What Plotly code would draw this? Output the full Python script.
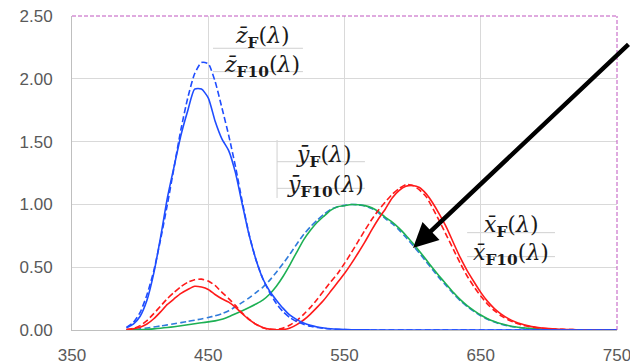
import plotly.graph_objects as go

wavelength = [390, 395, 400, 405, 410, 415, 420, 425, 430, 435, 440, 445, 450, 455, 460, 465,
              470, 475, 480, 485, 490, 495, 500, 505, 510, 515, 520, 525, 530, 535, 540, 545,
              550, 555, 560, 565, 570, 575, 580, 585, 590, 595, 600, 605, 610, 615, 620, 625,
              630, 635, 640, 645, 650, 655, 660, 665, 670, 675, 680, 685, 690, 695, 700, 705,
              710, 715, 720, 725, 730, 735, 740, 745, 750]

# 2-degree (solid)
x_F = [0.0038, 0.0094, 0.0221, 0.0474, 0.0895, 0.1446, 0.2036, 0.2489, 0.2918, 0.3227, 0.3483, 0.3418,
       0.3225, 0.2827, 0.2485, 0.2220, 0.1807, 0.1292, 0.0818, 0.0460, 0.0208, 0.0071, 0.0025, 0.0036,
       0.0156, 0.0432, 0.0796, 0.1268, 0.1818, 0.2405, 0.3098, 0.3804, 0.4494, 0.5280, 0.6134, 0.7017,
       0.7968, 0.8853, 0.9638, 1.0510, 1.1098, 1.1436, 1.1510, 1.1348, 1.0839, 1.0073, 0.9143, 0.8136,
       0.6925, 0.5755, 0.4731, 0.3845, 0.2997, 0.2278, 0.1708, 0.1264, 0.0922, 0.0664, 0.0471, 0.0329,
       0.0226, 0.0158, 0.0110, 0.0076, 0.0052, 0.0036, 0.0025, 0.0017, 0.0012, 0.0008, 0.0006, 0.0004,
       0.0003]
y_F = [0.0004, 0.0011, 0.0025, 0.0050, 0.0091, 0.0143, 0.0203, 0.0261, 0.0332, 0.0416, 0.0503, 0.0574,
       0.0647, 0.0724, 0.0851, 0.1060, 0.1299, 0.1535, 0.1788, 0.2065, 0.2379, 0.2851, 0.3484, 0.4278,
       0.5205, 0.6206, 0.7181, 0.7946, 0.8576, 0.9071, 0.9545, 0.9814, 0.9890, 0.9995, 0.9968, 0.9903,
       0.9733, 0.9425, 0.8964, 0.8587, 0.8116, 0.7545, 0.6919, 0.6270, 0.5584, 0.4896, 0.4230, 0.3609,
       0.2981, 0.2417, 0.1943, 0.1547, 0.1193, 0.0898, 0.0667, 0.0490, 0.0356, 0.0255, 0.0181, 0.0126,
       0.0087, 0.0060, 0.0042, 0.0029, 0.0020, 0.0014, 0.0009, 0.0007, 0.0005, 0.0003, 0.0002, 0.0002,
       0.0001]
z_F = [0.0185, 0.0461, 0.1096, 0.2369, 0.4508, 0.7379, 1.0518, 1.3050, 1.5528, 1.7483, 1.9175, 1.9184,
       1.8485, 1.6644, 1.5222, 1.4284, 1.2506, 0.9992, 0.7552, 0.5617, 0.4099, 0.3106, 0.2377, 0.1720,
       0.1177, 0.0828, 0.0565, 0.0375, 0.0244, 0.0157, 0.0098, 0.0061, 0.0038, 0.0023, 0.0014, 0.0009,
       0.0005, 0.0003, 0.0002, 0.0001, 0.0001, 0.0, 0.0, 0.0, 0.0, 0.0, 0.0, 0.0,
       0.0, 0.0, 0.0, 0.0, 0.0, 0.0, 0.0, 0.0, 0.0, 0.0, 0.0, 0.0,
       0.0, 0.0, 0.0, 0.0, 0.0, 0.0, 0.0, 0.0, 0.0, 0.0, 0.0, 0.0,
       0.0]

# 10-degree (dashed)
x_F10 = [0.003, 0.012, 0.035, 0.075, 0.130, 0.190, 0.250, 0.300, 0.345, 0.380, 0.400, 0.405,
         0.390, 0.355, 0.300, 0.250, 0.195, 0.135, 0.085, 0.045, 0.018, 0.005, 0.004, 0.015,
         0.040, 0.075, 0.125, 0.180, 0.245, 0.315, 0.385, 0.450, 0.530, 0.615, 0.705, 0.795,
         0.880, 0.955, 1.020, 1.080, 1.125, 1.158, 1.150, 1.115, 1.060, 0.965, 0.860, 0.750,
         0.640, 0.530, 0.430, 0.345, 0.270, 0.205, 0.154, 0.113, 0.082, 0.058, 0.041, 0.029,
         0.020, 0.014, 0.0096, 0.0066, 0.0046, 0.0032, 0.0022, 0.0015, 0.0011, 0.0008, 0.0005, 0.0004,
         0.0003]
y_F10 = [0.001, 0.004, 0.009, 0.016, 0.024, 0.032, 0.041, 0.050, 0.059, 0.068, 0.078, 0.088,
         0.100, 0.113, 0.130, 0.153, 0.185, 0.220, 0.255, 0.298, 0.340, 0.395, 0.460, 0.530,
         0.605, 0.685, 0.760, 0.822, 0.875, 0.922, 0.960, 0.982, 0.992, 0.999, 0.997, 0.988,
         0.967, 0.933, 0.887, 0.846, 0.797, 0.738, 0.676, 0.611, 0.543, 0.475, 0.409, 0.349,
         0.288, 0.233, 0.187, 0.148, 0.113, 0.085, 0.063, 0.046, 0.033, 0.024, 0.017, 0.012,
         0.008, 0.0056, 0.0039, 0.0027, 0.0019, 0.0013, 0.0009, 0.0006, 0.0004, 0.0003, 0.0002, 0.0001,
         0.0001]
z_F10 = [0.020, 0.060, 0.140, 0.280, 0.470, 0.720, 1.000, 1.300, 1.600, 1.850, 2.040, 2.130,
         2.120, 1.980, 1.770, 1.550, 1.300, 1.020, 0.760, 0.560, 0.410, 0.300, 0.210, 0.145,
         0.098, 0.067, 0.045, 0.030, 0.020, 0.013, 0.008, 0.005, 0.003, 0.002, 0.001, 0.0,
         0.0, 0.0, 0.0, 0.0, 0.0, 0.0, 0.0, 0.0, 0.0, 0.0, 0.0, 0.0,
         0.0, 0.0, 0.0, 0.0, 0.0, 0.0, 0.0, 0.0, 0.0, 0.0, 0.0, 0.0,
         0.0, 0.0, 0.0, 0.0, 0.0, 0.0, 0.0, 0.0, 0.0, 0.0, 0.0, 0.0,
         0.0]

x_ticks = [350, 450, 550, 650, 750]
y_ticks = [0.0, 0.5, 1.0, 1.5, 2.0, 2.5]

RED = "#FF1A1A"
GREEN = "#1DB054"
BLUE = "#1F4DFF"
BLUE_LIGHT = "#2F7BDB"
DASH = "6px,3px"

fig = go.Figure()

def add(y, color, dash=None, name=""):
    fig.add_trace(go.Scatter(
        x=wavelength, y=y, mode="lines", name=name,
        line=dict(color=color, width=1.6, dash=dash, shape="spline", smoothing=0.6),
        hoverinfo="skip", showlegend=False))

add(y_F10, BLUE_LIGHT, DASH, "y_F10")
add(y_F, GREEN, None, "y_F")
add(x_F10, RED, DASH, "x_F10")
add(x_F, RED, None, "x_F")
add(z_F10, BLUE, DASH, "z_F10")
add(z_F, BLUE, None, "z_F")

tick_font = dict(family="Liberation Sans, Arial, sans-serif", size=17, color="#595959")

fig.update_xaxes(range=[350, 750], tickvals=x_ticks, ticktext=[str(v) for v in x_ticks],
                 showgrid=True, gridcolor="#D9D9D9", gridwidth=1,
                 showline=True, linecolor="#BFBFBF", linewidth=1,
                 zeroline=False, ticks="outside", ticklen=10, tickcolor="rgba(0,0,0,0)",
                 tickfont=tick_font, automargin=False, ticklabeloverflow="allow")
fig.update_yaxes(range=[0, 2.5], tickvals=y_ticks, ticktext=[f"{v:.2f}" for v in y_ticks],
                 showgrid=True, gridcolor="#D9D9D9", gridwidth=1,
                 showline=True, linecolor="#BFBFBF", linewidth=1,
                 zeroline=False, ticks="outside", ticklen=15, tickcolor="rgba(0,0,0,0)",
                 tickfont=tick_font, automargin=False, ticklabeloverflow="allow")

# dashed purple border on top and right
border = dict(color="#BF55BF", width=1, dash="4px,2px")
fig.add_shape(type="line", xref="paper", yref="paper", x0=0, x1=1, y0=1, y1=1, line=border)
fig.add_shape(type="line", xref="paper", yref="paper", x0=1, x1=1, y0=0, y1=1, line=border)

# thin grey rule lines around labels
rule = dict(color="#D0D0D0", width=1)
for (xa, xb, yy) in [(453.5, 519.5, 2.243), (453.5, 519.5, 2.057),
                     (500.5, 565.0, 1.340), (500.5, 565.0, 1.128),
                     (640.0, 704.5, 0.775), (640.0, 704.5, 0.584)]:
    fig.add_shape(type="line", xref="x", yref="y", x0=xa, x1=xb, y0=yy, y1=yy, line=rule, layer="below")
fig.add_shape(type="line", xref="x", yref="y", x0=500.5, x1=500.5, y0=1.051, y1=1.513, line=rule, layer="below")

label_font = dict(family="DejaVu Serif, Liberation Serif, serif", size=22, color="#1a1a1a")
labels = [
    ("<i>z\u0304</i><sub><b>F</b></sub>(<i>λ</i>)", 490.0, 2.325),
    ("<i>z\u0304</i><sub><b>F10</b></sub>(<i>λ</i>)", 489.5, 2.10),
    ("<i>y\u0304</i><sub><b>F</b></sub>(<i>λ</i>)", 535.0, 1.385),
    ("<i>y\u0304</i><sub><b>F10</b></sub>(<i>λ</i>)", 535.7, 1.146),
    ("<i>x\u0304</i><sub><b>F</b></sub>(<i>λ</i>)", 672.2, 0.828),
    ("<i>x\u0304</i><sub><b>F10</b></sub>(<i>λ</i>)", 672.2, 0.605),
]
for text, lx, ly in labels:
    fig.add_annotation(x=lx, y=ly, xref="x", yref="y", text=text, showarrow=False,
                       font=label_font, xanchor="center", yanchor="middle")

# black arrow
fig.add_annotation(x=600.3, y=0.653, xref="x", yref="y", text="", showarrow=True,
                   ax=217, ay=-205, arrowhead=2, arrowsize=1.1, arrowwidth=4.5,
                   arrowcolor="#000000", standoff=0)

fig.update_layout(width=630, height=364, margin=dict(l=72, r=13, t=16, b=34, autoexpand=False),
                  paper_bgcolor="white", plot_bgcolor="white", showlegend=False)

fig.write_html("out.html")
